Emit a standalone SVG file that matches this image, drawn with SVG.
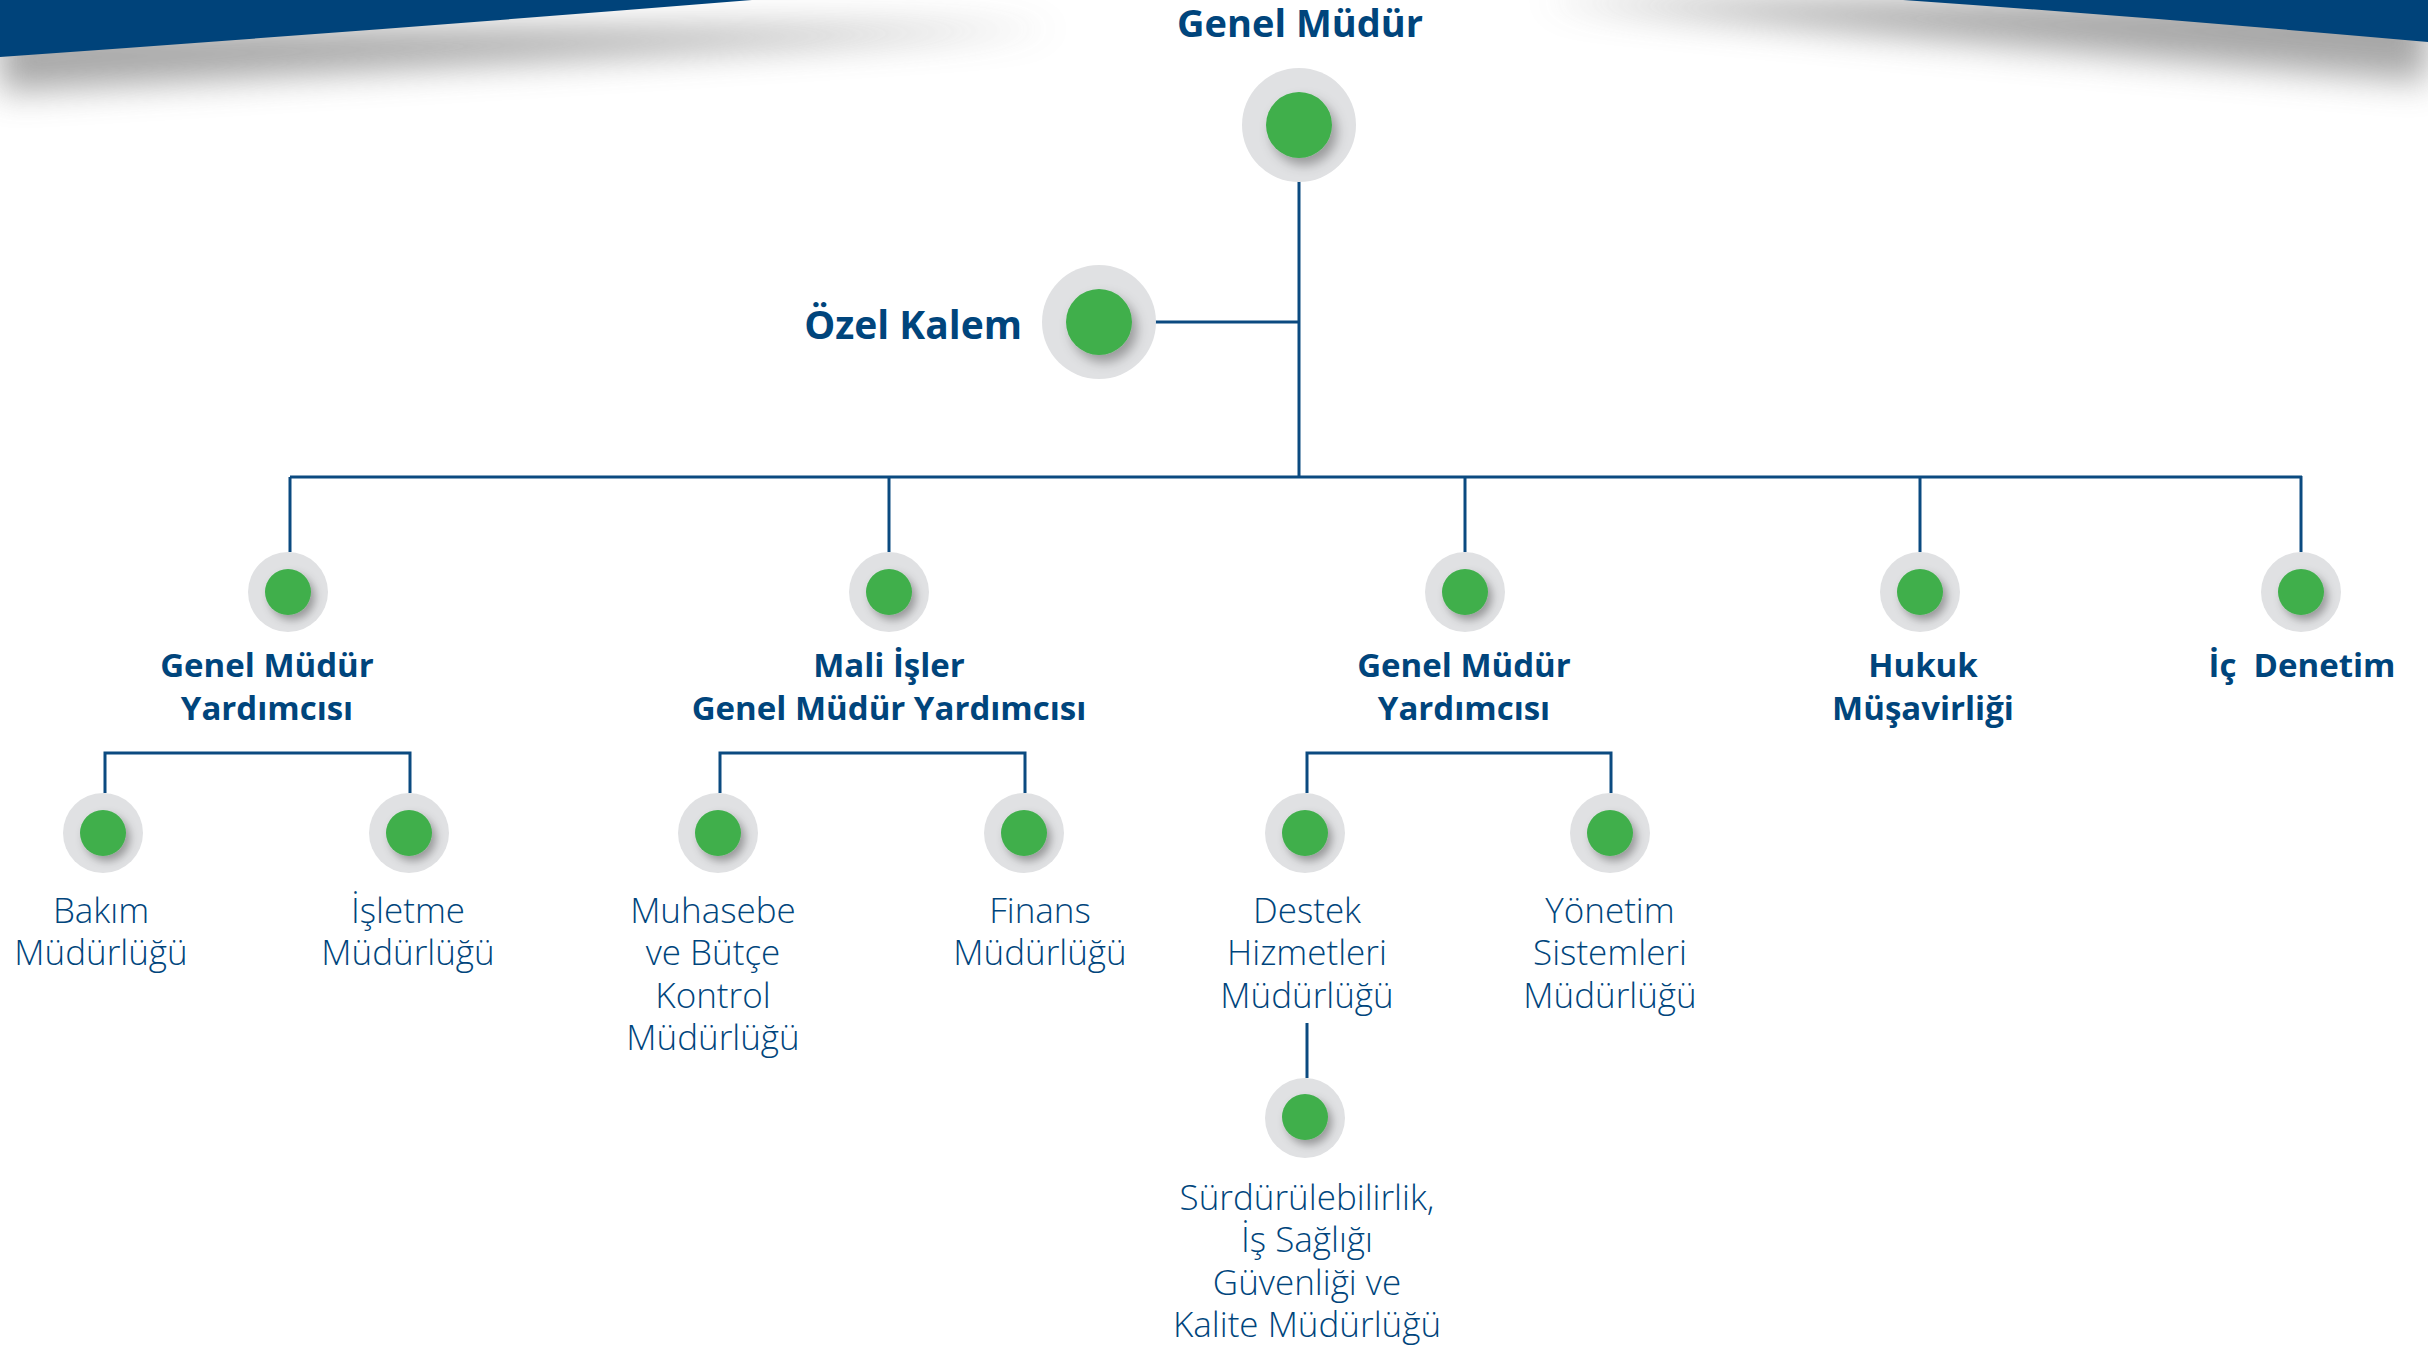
<svg xmlns="http://www.w3.org/2000/svg" width="2428" height="1351" viewBox="0 0 2428 1351">
<defs>
<filter id="bshadow" x="-20%" y="-100%" width="140%" height="400%"><feGaussianBlur stdDeviation="17"/></filter>
<filter id="dsL" x="-50%" y="-50%" width="220%" height="220%"><feDropShadow dx="5" dy="7" stdDeviation="6" flood-color="#000" flood-opacity="0.32"/></filter>
<filter id="dsS" x="-50%" y="-50%" width="220%" height="220%"><feDropShadow dx="4" dy="5" stdDeviation="4" flood-color="#000" flood-opacity="0.32"/></filter>
<style>
.ring{fill:#e0e1e3}
.dot{fill:#3faf4b}
.ln{stroke:#0b4a80;stroke-width:3;fill:none}
.b{font-family:"Open Sans","Noto Sans","Liberation Sans",sans-serif;font-weight:700;fill:#00457c;text-anchor:middle}
.r{font-family:"Open Sans","Noto Sans","Liberation Sans",sans-serif;font-weight:300;fill:#00457c;text-anchor:middle;font-size:35px}
</style>
</defs>
<rect width="2428" height="1351" fill="#fff"/>
<g id="banner">
<path d="M0,28 L1060,28 Q530,62 0,92 Z" fill="#8a8a8a" opacity="0.75" filter="url(#bshadow)"/>
<path d="M1540,0 L2428,0 L2428,82 Q1980,45 1540,0 Z" fill="#8a8a8a" opacity="0.75" filter="url(#bshadow)"/>
<path d="M0,0 L752,0 Q380,30 0,57 Z" fill="#00437a"/>
<path d="M1903,0 L2428,0 L2428,42 Q2160,18 1903,0 Z" fill="#00437a"/>
</g>
<g id="connectors" class="ln">
<line x1="1299" y1="125" x2="1299" y2="478"/>
<line x1="1110" y1="322" x2="1299" y2="322"/>
<line x1="290" y1="477" x2="2302" y2="477"/>
<line x1="290" y1="477" x2="290" y2="552"/>
<line x1="889" y1="477" x2="889" y2="552"/>
<line x1="1465" y1="477" x2="1465" y2="552"/>
<line x1="1920" y1="477" x2="1920" y2="552"/>
<line x1="2301" y1="476" x2="2301" y2="552"/>
<path d="M105,793 V753 H410 V793"/>
<path d="M720,793 V753 H1025 V793"/>
<path d="M1307,793 V753 H1611 V793"/>
<line x1="1307" y1="1023" x2="1307" y2="1078"/>
</g>
<g id="n-genel-mudur">
<text class="b" x="1300" y="37" font-size="38">Genel Müdür</text>
<circle class="ring" cx="1299" cy="125" r="57"/>
<circle class="dot" cx="1299" cy="125" r="33" filter="url(#dsL)"/>
</g>
<g id="n-ozel-kalem">
<text class="b" x="1022" y="339" font-size="39" style="text-anchor:end">Özel Kalem</text>
<circle class="ring" cx="1099" cy="322" r="57"/>
<circle class="dot" cx="1099" cy="322" r="33" filter="url(#dsL)"/>
</g>
<g id="n-gmy1">
<circle class="ring" cx="288" cy="592" r="40"/>
<circle class="dot" cx="288" cy="592" r="23" filter="url(#dsS)"/>
<text class="b" font-size="33"><tspan x="267" y="677">Genel Müdür</tspan><tspan x="267" y="720">Yardımcısı</tspan></text>
</g>
<g id="n-mali">
<circle class="ring" cx="889" cy="592" r="40"/>
<circle class="dot" cx="889" cy="592" r="23" filter="url(#dsS)"/>
<text class="b" font-size="33"><tspan x="889" y="677">Mali İşler</tspan><tspan x="889" y="720">Genel Müdür Yardımcısı</tspan></text>
</g>
<g id="n-gmy2">
<circle class="ring" cx="1465" cy="592" r="40"/>
<circle class="dot" cx="1465" cy="592" r="23" filter="url(#dsS)"/>
<text class="b" font-size="33"><tspan x="1464" y="677">Genel Müdür</tspan><tspan x="1464" y="720">Yardımcısı</tspan></text>
</g>
<g id="n-hukuk">
<circle class="ring" cx="1920" cy="592" r="40"/>
<circle class="dot" cx="1920" cy="592" r="23" filter="url(#dsS)"/>
<text class="b" font-size="33"><tspan x="1923" y="677">Hukuk</tspan><tspan x="1923" y="720">Müşavirliği</tspan></text>
</g>
<g id="n-ic-denetim">
<circle class="ring" cx="2301" cy="592" r="40"/>
<circle class="dot" cx="2301" cy="592" r="23" filter="url(#dsS)"/>
<text class="b" font-size="33" x="2302" y="677" xml:space="preserve">İç  Denetim</text>
</g>
<g id="n-bakim">
<circle class="ring" cx="103" cy="833" r="40"/>
<circle class="dot" cx="103" cy="833" r="23" filter="url(#dsS)"/>
<text class="r"><tspan x="101" y="923">Bakım</tspan><tspan x="101" y="965">Müdürlüğü</tspan></text>
</g>
<g id="n-isletme">
<circle class="ring" cx="409" cy="833" r="40"/>
<circle class="dot" cx="409" cy="833" r="23" filter="url(#dsS)"/>
<text class="r"><tspan x="408" y="923">İşletme</tspan><tspan x="408" y="965">Müdürlüğü</tspan></text>
</g>
<g id="n-muhasebe">
<circle class="ring" cx="718" cy="833" r="40"/>
<circle class="dot" cx="718" cy="833" r="23" filter="url(#dsS)"/>
<text class="r"><tspan x="713" y="923">Muhasebe</tspan><tspan x="713" y="965">ve Bütçe</tspan><tspan x="713" y="1008">Kontrol</tspan><tspan x="713" y="1050">Müdürlüğü</tspan></text>
</g>
<g id="n-finans">
<circle class="ring" cx="1024" cy="833" r="40"/>
<circle class="dot" cx="1024" cy="833" r="23" filter="url(#dsS)"/>
<text class="r"><tspan x="1040" y="923">Finans</tspan><tspan x="1040" y="965">Müdürlüğü</tspan></text>
</g>
<g id="n-destek">
<circle class="ring" cx="1305" cy="833" r="40"/>
<circle class="dot" cx="1305" cy="833" r="23" filter="url(#dsS)"/>
<text class="r"><tspan x="1307" y="923">Destek</tspan><tspan x="1307" y="965">Hizmetleri</tspan><tspan x="1307" y="1008">Müdürlüğü</tspan></text>
</g>
<g id="n-yonetim">
<circle class="ring" cx="1610" cy="833" r="40"/>
<circle class="dot" cx="1610" cy="833" r="23" filter="url(#dsS)"/>
<text class="r"><tspan x="1610" y="923">Yönetim</tspan><tspan x="1610" y="965">Sistemleri</tspan><tspan x="1610" y="1008">Müdürlüğü</tspan></text>
</g>
<g id="n-surdurulebilirlik">
<circle class="ring" cx="1305" cy="1118" r="40"/>
<circle class="dot" cx="1305" cy="1117" r="23" filter="url(#dsS)"/>
<text class="r"><tspan x="1307" y="1210">Sürdürülebilirlik,</tspan><tspan x="1307" y="1252">İş Sağlığı</tspan><tspan x="1307" y="1295">Güvenliği ve</tspan><tspan x="1307" y="1337">Kalite Müdürlüğü</tspan></text>
</g>
</svg>
